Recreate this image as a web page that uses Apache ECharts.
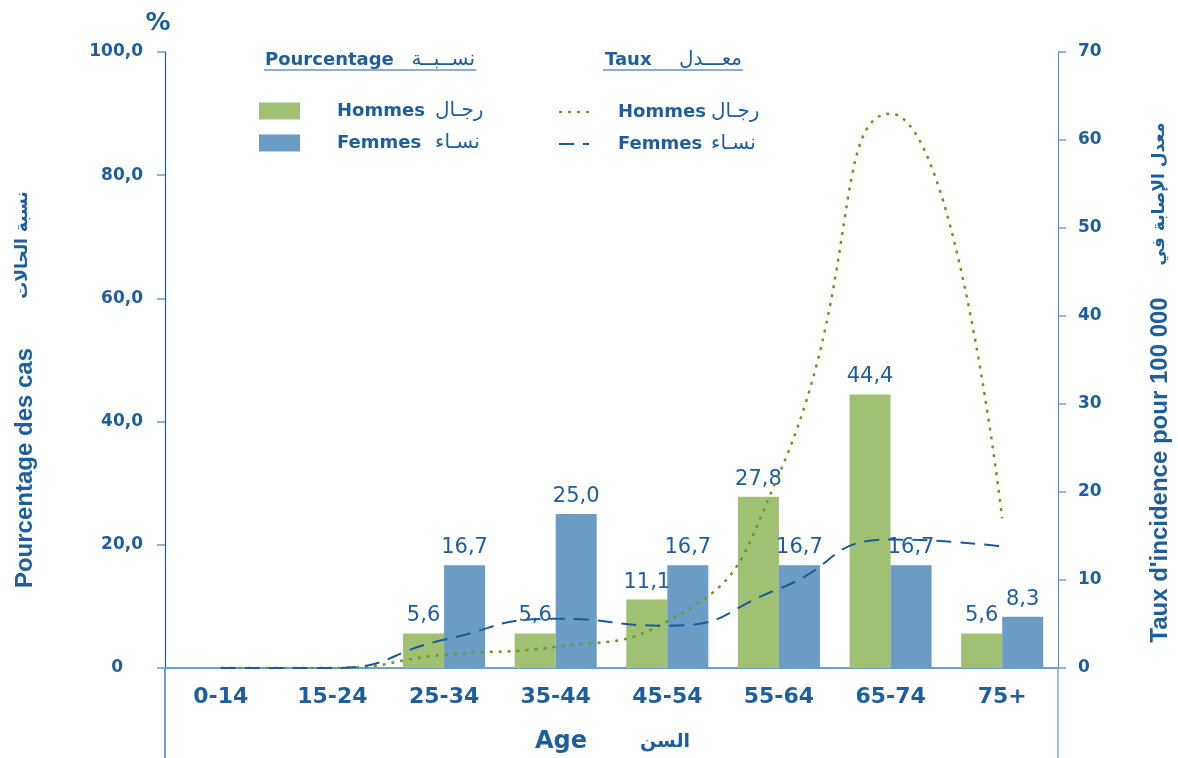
<!DOCTYPE html>
<html><head><meta charset="utf-8">
<script src="https://cdn.jsdelivr.net/npm/echarts@6/dist/echarts.min.js"></script>
<style>html,body{margin:0;padding:0;background:#fff}#c{width:1178px;height:758px}</style>
</head><body><div id="c"></div>
<script>
// ---- data ----
const categories = ['0-14','15-24','25-34','35-44','45-54','55-64','65-74','75+'];
const pctHommes  = [0, 0, 5.6, 5.6, 11.1, 27.8, 44.4, 5.6];
const pctFemmes  = [0, 0, 16.7, 25.0, 16.7, 16.7, 16.7, 8.3];
const tauxHommes = [0, 0, 1.5, 2.4, 5.3, 22, 63, 17];
const tauxFemmes = [0, 0, 3.2, 5.6, 4.8, 9.0, 14.6, 13.8];
const leftAxisMax = 100, leftAxisStep = 20;
const rightAxisMax = 70, rightAxisStep = 10;

// ---- style ----
const TXT = '#1d5e9e';
const DJ = 'DejaVu Sans';
const GREEN_BAR = '#a0c174', BLUE_BAR = '#6a9cc5';
const GREEN_LINE = '#6b9b1e', BLUE_LINE = '#1a5c9a';
const fmtNum = v => v.toFixed(1).replace('.', ',');

const chart = echarts.init(document.getElementById('c'), null, {renderer:'canvas'});

function legendRich(pw, aw){
  return {
    p:{width:pw, height:20},
    a:{width:aw, height:20, fontFamily:DJ, fontWeight:'bold', fontSize:18, color:TXT},
    b:{height:20, fontFamily:DJ, fontSize:20, color:TXT}
  };
}
const legendNames = {
  'Hommes (pourcentage)':['Hommes','رجـال'],
  'Femmes (pourcentage)':['Femmes','نسـاء'],
  'Hommes (taux)':['Hommes','رجـال'],
  'Femmes (taux)':['Femmes','نسـاء']
};
const legendFmt = n=>'{p|}{a|'+legendNames[n][0]+'}{b|'+legendNames[n][1]+'}';

const option = {
  backgroundColor:'#fff',
  animation:false,
  grid:{left:165, right:120, top:52, bottom:90, containLabel:false},
  legend:[
    {data:['Hommes (pourcentage)','Femmes (pourcentage)'], orient:'vertical', left:259, top:101, padding:0,
     itemWidth:41, itemHeight:17, itemGap:12, icon:'rect', selectedMode:false,
     formatter:legendFmt, textStyle:{rich:legendRich(32, 98)}},
    {data:['Hommes (taux)','Femmes (taux)'], orient:'vertical', left:558, top:102, padding:0,
     itemWidth:30, itemHeight:17, itemGap:12, selectedMode:false,
     itemStyle:{opacity:0},
     formatter:legendFmt, textStyle:{rich:legendRich(24, 93)}}
  ],
  xAxis:{
    type:'category', data:categories,
    axisLine:{lineStyle:{color:'#6f9fcc', width:2}},
    axisTick:{show:false},
    axisLabel:{margin:18, fontFamily:DJ, fontWeight:'bold', fontSize:22, color:TXT}
  },
  yAxis:[
    {type:'value', min:0, max:leftAxisMax, interval:leftAxisStep, position:'left',
     axisLine:{show:true, lineStyle:{color:TXT, width:1.2}},
     axisTick:{show:true, length:8, lineStyle:{color:'#6f9fcc', width:1.5}},
     splitLine:{show:false},
     axisLabel:{margin:22, fontFamily:DJ, fontWeight:'bold', fontSize:17, color:TXT,
       formatter:v=> v===0 ? '{z|0}' : fmtNum(v),
       rich:{z:{padding:[0,20,0,0], fontFamily:DJ, fontWeight:'bold', fontSize:17, color:TXT}}}},
    {type:'value', min:0, max:rightAxisMax, interval:rightAxisStep, position:'right',
     axisLine:{show:true, lineStyle:{color:'#5f92c2', width:1.2}},
     axisTick:{show:true, length:8, lineStyle:{color:'#6f9fcc', width:1.5}},
     splitLine:{show:false},
     axisLabel:{margin:20, fontFamily:DJ, fontWeight:'bold', fontSize:17, color:TXT}}
  ],
  series:[
    {name:'Hommes (pourcentage)', type:'bar', data:pctHommes, barGap:'0%', barCategoryGap:'26.5%',
     itemStyle:{color:GREEN_BAR},
     label:{show:true, position:'top', distance:7, fontFamily:DJ, fontSize:21, color:TXT,
       formatter:p=> p.value ? fmtNum(p.value) : ''}},
    {name:'Femmes (pourcentage)', type:'bar', data:pctFemmes,
     itemStyle:{color:BLUE_BAR},
     label:{show:true, position:'top', distance:7, fontFamily:DJ, fontSize:21, color:TXT,
       formatter:p=> p.value ? fmtNum(p.value) : ''}},
    {name:'Hommes (taux)', type:'line', yAxisIndex:1, data:tauxHommes, smooth:0.55,
     symbol:'none', showSymbol:false, z:5, lineStyle:{color:GREEN_LINE, width:2.5, type:[3,6]}, itemStyle:{color:GREEN_LINE}},
    {name:'Femmes (taux)', type:'line', yAxisIndex:1, data:tauxFemmes, smooth:0.55,
     symbol:'none', showSymbol:false, z:5, lineStyle:{color:BLUE_LINE, width:2, type:[15,9]}, itemStyle:{color:BLUE_LINE}}
  ],
  graphic:[
    {type:'line', shape:{x1:165, y1:668, x2:165, y2:758}, style:{stroke:TXT, lineWidth:1.2}},
    {type:'line', shape:{x1:1058, y1:668, x2:1058, y2:758}, style:{stroke:'#5f92c2', lineWidth:1.2}},
    {type:'text', x:158, y:23, style:{text:'%', font:'bold 25px "DejaVu Sans"', fill:TXT, align:'center', verticalAlign:'middle'}},
    {type:'text', x:265, y:60, style:{text:'Pourcentage', font:'bold 18px "DejaVu Sans"', fill:TXT, align:'left', verticalAlign:'middle'}},
    {type:'text', x:475, y:60, style:{text:'نســبــة', font:'20px "DejaVu Sans"', fill:TXT, align:'right', verticalAlign:'middle'}},
    {type:'line', shape:{x1:264, y1:70, x2:476, y2:70}, style:{stroke:TXT, lineWidth:1.2}},
    {type:'text', x:605, y:60, style:{text:'Taux', font:'bold 18px "DejaVu Sans"', fill:TXT, align:'left', verticalAlign:'middle'}},
    {type:'text', x:742, y:60, style:{text:'معـــدل', font:'20px "DejaVu Sans"', fill:TXT, align:'right', verticalAlign:'middle'}},
    {type:'line', shape:{x1:603, y1:70, x2:743, y2:70}, style:{stroke:TXT, lineWidth:1.2}},
    {type:'text', x:25, y:468, rotation:Math.PI/2, style:{text:'Pourcentage des cas', font:'bold 24px "Liberation Sans"', fill:TXT, align:'center', verticalAlign:'middle'}},
    {type:'text', x:23, y:245, rotation:Math.PI/2, style:{text:'نسبة الحالات', font:'bold 17px "DejaVu Sans"', fill:TXT, align:'center', verticalAlign:'middle'}},
    {type:'text', x:1160, y:470, rotation:Math.PI/2, style:{text:"Taux d'incidence pour 100 000", font:'bold 24px "Liberation Sans"', fill:TXT, align:'center', verticalAlign:'middle'}},
    {type:'text', x:1160, y:194, rotation:Math.PI/2, style:{text:'معدل الإصابة في', font:'bold 17px "DejaVu Sans"', fill:TXT, align:'center', verticalAlign:'middle'}},
    {type:'text', x:561, y:742, style:{text:'Age', font:'bold 24px "DejaVu Sans"', fill:TXT, align:'center', verticalAlign:'middle'}},
    {type:'text', x:665, y:742, style:{text:'السن', font:'bold 19px "DejaVu Sans"', fill:TXT, align:'center', verticalAlign:'middle'}}
  ]
};
chart.setOption(option);
</script></body></html>
